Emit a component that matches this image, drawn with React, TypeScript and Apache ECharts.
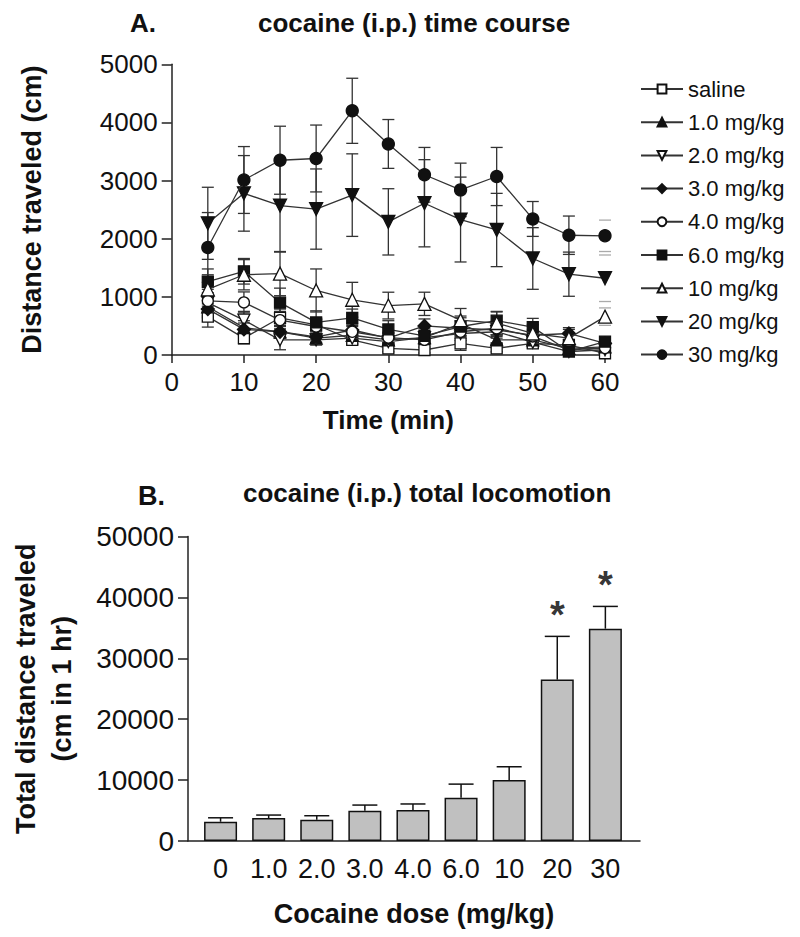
import React, { useEffect, useRef } from 'react';
import * as echarts from 'echarts';

// ---------- Panel A data (time course) ----------
const timePoints = [5, 10, 15, 20, 25, 30, 35, 40, 45, 50, 55, 60];
const groupNames = ['saline', '1.0 mg/kg', '2.0 mg/kg', '3.0 mg/kg', '4.0 mg/kg', '6.0 mg/kg', '10 mg/kg', '20 mg/kg', '30 mg/kg'];

const salineMean = [660, 290, 640, 520, 260, 115, 86, 200, 115, 200, 170, 30];
const salineSem = [180, 100, 150, 120, 80, 60, 50, 120, 60, 80, 60, 30];
const mg1Mean = [830, 470, 400, 290, 340, 260, 300, 540, 260, 260, 115, 140];
const mg1Sem = [160, 120, 110, 80, 90, 70, 80, 130, 90, 80, 60, 60];
const mg2Mean = [900, 600, 260, 260, 290, 230, 300, 370, 400, 220, 60, 90];
const mg2Sem = [170, 150, 170, 90, 90, 80, 90, 120, 110, 80, 40, 50];
const mg3Mean = [790, 440, 400, 310, 430, 290, 500, 460, 430, 340, 370, 200];
const mg3Sem = [150, 110, 110, 90, 100, 80, 120, 130, 110, 90, 100, 70];
const mg4Mean = [930, 905, 600, 490, 400, 300, 260, 400, 460, 320, 90, 120];
const mg4Sem = [200, 180, 150, 130, 110, 90, 80, 110, 120, 90, 50, 60];
const mg6Mean = [1260, 1440, 900, 560, 640, 440, 330, 490, 590, 480, 60, 230];
const mg6Sem = [220, 220, 250, 200, 150, 150, 120, 150, 150, 150, 50, 80];
const mg10Mean = [1130, 1380, 1400, 1110, 950, 850, 880, 600, 550, 370, 290, 660];
const mg10Sem = [250, 260, 380, 370, 300, 230, 200, 200, 200, 150, 150, 150];
const mg20Mean = [2265, 2780, 2570, 2510, 2750, 2290, 2610, 2330, 2150, 1660, 1390, 1320];
const mg20Sem = [620, 650, 800, 690, 710, 570, 750, 730, 630, 530, 380, 400];
const mg30Mean = [1850, 3010, 3350, 3380, 4200, 3630, 3100, 2840, 3070, 2340, 2060, 2050];
const mg30Sem = [600, 575, 585, 575, 560, 420, 470, 460, 500, 300, 330, 270];

const timeTicks = [0, 10, 20, 30, 40, 50, 60];
const distanceTicks = [0, 1000, 2000, 3000, 4000, 5000];

// ---------- Panel B data (total locomotion) ----------
const doseLabels = ['0', '1.0', '2.0', '3.0', '4.0', '6.0', '10', '20', '30'];
const totalMean = [3160, 3770, 3490, 4970, 5100, 7100, 10000, 26500, 34860];
const totalSem = [650, 490, 660, 930, 980, 2240, 2190, 7100, 3660];
const significant = [false, false, false, false, false, false, false, true, true];
const totalTicks = [0, 10000, 20000, 30000, 40000, 50000];

const FONT = '"Liberation Sans", Arial, Helvetica, sans-serif';
const INK = '#111';
const AXIS = '#222';

const groupMeans = [salineMean, mg1Mean, mg2Mean, mg3Mean, mg4Mean, mg6Mean, mg10Mean, mg20Mean, mg30Mean];
const groupSems = [salineSem, mg1Sem, mg2Sem, mg3Sem, mg4Sem, mg6Sem, mg10Sem, mg20Sem, mg30Sem];

type Marker = { symbol: string; size: number; rotate: number; filled: boolean };
const markers: Marker[] = [
  { symbol: 'rect', size: 11, rotate: 0, filled: false },
  { symbol: 'triangle', size: 12, rotate: 0, filled: true },
  { symbol: 'triangle', size: 12, rotate: 180, filled: false },
  { symbol: 'diamond', size: 13, rotate: 0, filled: true },
  { symbol: 'circle', size: 11, rotate: 0, filled: false },
  { symbol: 'rect', size: 11, rotate: 0, filled: true },
  { symbol: 'triangle', size: 13, rotate: 0, filled: false },
  { symbol: 'triangle', size: 13, rotate: 180, filled: true },
  { symbol: 'circle', size: 12, rotate: 0, filled: true },
];

const plain = (v: number) => String(v);

export default function App() {
  const ref = useRef<HTMLDivElement>(null);

  useEffect(() => {
    document.body.style.margin = '0';
    if (!ref.current) return;
    const chart = echarts.init(ref.current, undefined, { renderer: 'svg' });

    const lineSeries = groupNames.map((name, g) => {
      const m = markers[g];
      return {
        type: 'line',
        name,
        xAxisIndex: 0,
        yAxisIndex: 0,
        data: timePoints.map((t, i) => [t, groupMeans[g][i]]),
        symbol: m.symbol,
        symbolSize: m.size,
        symbolRotate: m.rotate,
        showAllSymbol: true,
        itemStyle: { color: m.filled ? '#111' : '#fff', borderColor: '#111', borderWidth: 1.3 },
        lineStyle: { color: '#333', width: 1.3 },
        z: 3 + g * 0.01,
      };
    });

    const errSeries = groupNames.map((name, g) => ({
      type: 'custom',
      name: name + ' SEM',
      xAxisIndex: 0,
      yAxisIndex: 0,
      silent: true,
      z: 2,
      data: timePoints.map((t, i) => [t, groupMeans[g][i], groupSems[g][i]]),
      encode: { x: 0, y: 1 },
      renderItem: (params: any, api: any) => {
        const x = api.value(0);
        const m = api.value(1);
        const s = api.value(2);
        const hi = api.coord([x, m + s]);
        const lo = api.coord([x, m - s]);
        const half = 6;
        const last = params.dataIndex === timePoints.length - 1;
        const stroke = last ? '#aaa' : '#333';
        const children: any[] = [];
        if (!last) {
          children.push({ type: 'line', shape: { x1: hi[0], y1: hi[1], x2: lo[0], y2: lo[1] }, style: { stroke, lineWidth: 1.3 } });
        }
        children.push({ type: 'line', shape: { x1: hi[0] - half, y1: hi[1], x2: hi[0] + half, y2: hi[1] }, style: { stroke, lineWidth: 1.3 } });
        children.push({ type: 'line', shape: { x1: lo[0] - half, y1: lo[1], x2: lo[0] + half, y2: lo[1] }, style: { stroke, lineWidth: 1.3 } });
        return { type: 'group', children };
      },
    }));

    const option: any = {
      animation: false,
      backgroundColor: '#fff',
      textStyle: { fontFamily: FONT },
      grid: [
        { left: 171.7, top: 64.3, width: 433.3, height: 290.7 },
        { left: 181.7, top: 536.5, width: 458.3, height: 304.5 },
      ],
      legend: {
        data: groupNames,
        orient: 'vertical',
        left: 635,
        top: 73,
        itemWidth: 42,
        itemHeight: 11,
        itemGap: 11.2,
        textStyle: { fontSize: 22, color: INK, fontFamily: FONT },
        selectedMode: false,
      },
      xAxis: [
        {
          gridIndex: 0,
          type: 'value',
          min: 0,
          max: 60,
          interval: 10,
          name: 'Time (min)',
          nameLocation: 'middle',
          nameGap: 52,
          nameTextStyle: { fontSize: 26, fontWeight: 'bold', color: INK, fontFamily: FONT },
          axisLine: { lineStyle: { color: AXIS, width: 1.5 } },
          axisTick: { length: 8, lineStyle: { color: AXIS, width: 1.5 } },
          axisLabel: { fontSize: 26, color: INK, margin: 14, fontFamily: FONT, customValues: timeTicks, formatter: plain },
          splitLine: { show: false },
        },
        {
          gridIndex: 1,
          type: 'value',
          min: -0.677,
          max: 8.72,
          name: 'Cocaine dose (mg/kg)',
          nameLocation: 'middle',
          nameGap: 59,
          nameTextStyle: { fontSize: 27, fontWeight: 'bold', color: INK, fontFamily: FONT },
          axisLine: { onZero: false, lineStyle: { color: AXIS, width: 1.5 } },
          axisTick: { show: false },
          axisLabel: {
            fontSize: 27,
            color: INK,
            margin: 14,
            fontFamily: FONT,
            customValues: doseLabels.map((_, i) => i),
            formatter: (v: number) => doseLabels[Math.round(v)] ?? '',
          },
          splitLine: { show: false },
        },
      ],
      yAxis: [
        {
          gridIndex: 0,
          type: 'value',
          min: 0,
          max: 5000,
          interval: 1000,
          name: 'Distance traveled (cm)',
          nameLocation: 'middle',
          nameRotate: 90,
          nameGap: 126,
          nameTextStyle: { fontSize: 27, fontWeight: 'bold', color: INK, fontFamily: FONT },
          axisLine: { show: true, lineStyle: { color: AXIS, width: 1.5 } },
          axisTick: { show: true, length: 10, lineStyle: { color: AXIS, width: 1.5 } },
          axisLabel: { fontSize: 26, color: INK, margin: 14, fontFamily: FONT, customValues: distanceTicks, formatter: plain },
          splitLine: { show: false },
        },
        {
          gridIndex: 1,
          type: 'value',
          min: 0,
          max: 50000,
          interval: 10000,
          name: 'Total distance traveled\n(cm in 1 hr)',
          nameLocation: 'middle',
          nameRotate: 90,
          nameGap: 108,
          nameTextStyle: { fontSize: 27, fontWeight: 'bold', color: INK, fontFamily: FONT, lineHeight: 36 },
          axisLine: { show: true, onZero: false, lineStyle: { color: AXIS, width: 1.5 } },
          axisTick: { show: true, length: 10, lineStyle: { color: AXIS, width: 1.5 } },
          axisLabel: { fontSize: 28, color: INK, margin: 14, fontFamily: FONT, customValues: totalTicks, formatter: plain },
          splitLine: { show: false },
        },
      ],
      graphic: [
        { type: 'text', left: 130, top: 10, style: { text: 'A.', font: `bold 26px ${FONT}`, fill: INK } },
        { type: 'text', left: 258, top: 10, style: { text: 'cocaine (i.p.) time course', font: `bold 26px ${FONT}`, fill: INK } },
        { type: 'text', left: 138, top: 482, style: { text: 'B.', font: `bold 27px ${FONT}`, fill: INK } },
        { type: 'text', left: 243, top: 480, style: { text: 'cocaine (i.p.) total locomotion', font: `bold 26px ${FONT}`, fill: INK } },
      ],
      series: [
        ...errSeries,
        ...lineSeries,
        {
          type: 'bar',
          name: 'total',
          xAxisIndex: 1,
          yAxisIndex: 1,
          data: doseLabels.map((_, i) => [i, totalMean[i]]),
          barWidth: 33,
          itemStyle: { color: '#c0c0c0', borderColor: '#111', borderWidth: 1.5 },
          z: 2,
        },
        {
          type: 'custom',
          name: 'total SEM',
          xAxisIndex: 1,
          yAxisIndex: 1,
          silent: true,
          z: 3,
          data: doseLabels.map((_, i) => [i, totalMean[i], totalSem[i]]),
          encode: { x: 0, y: 1 },
          renderItem: (_params: any, api: any) => {
            const x = api.value(0);
            const m = api.value(1);
            const s = api.value(2);
            const top = api.coord([x, m]);
            const hi = api.coord([x, m + s]);
            const half = 12.5;
            return {
              type: 'group',
              children: [
                { type: 'line', shape: { x1: hi[0], y1: hi[1], x2: top[0], y2: top[1] }, style: { stroke: '#111', lineWidth: 1.5 } },
                { type: 'line', shape: { x1: hi[0] - half, y1: hi[1], x2: hi[0] + half, y2: hi[1] }, style: { stroke: '#111', lineWidth: 1.5 } },
              ],
            };
          },
        },
        {
          type: 'scatter',
          name: 'significance',
          xAxisIndex: 1,
          yAxisIndex: 1,
          symbolSize: 1,
          itemStyle: { color: 'rgba(0,0,0,0)' },
          silent: true,
          data: doseLabels
            .map((_, i) => (significant[i] ? [i, totalMean[i] + totalSem[i]] : null))
            .filter((d) => d !== null),
          label: {
            show: true,
            position: 'top',
            distance: 2,
            formatter: '*',
            fontSize: 38,
            fontWeight: 'bold',
            color: '#000',
            fontFamily: FONT,
          },
          z: 4,
        },
      ],
    };

    chart.setOption(option);
    return () => chart.dispose();
  }, []);

  return <div ref={ref} style={{ width: 800, height: 937 }} />;
}
